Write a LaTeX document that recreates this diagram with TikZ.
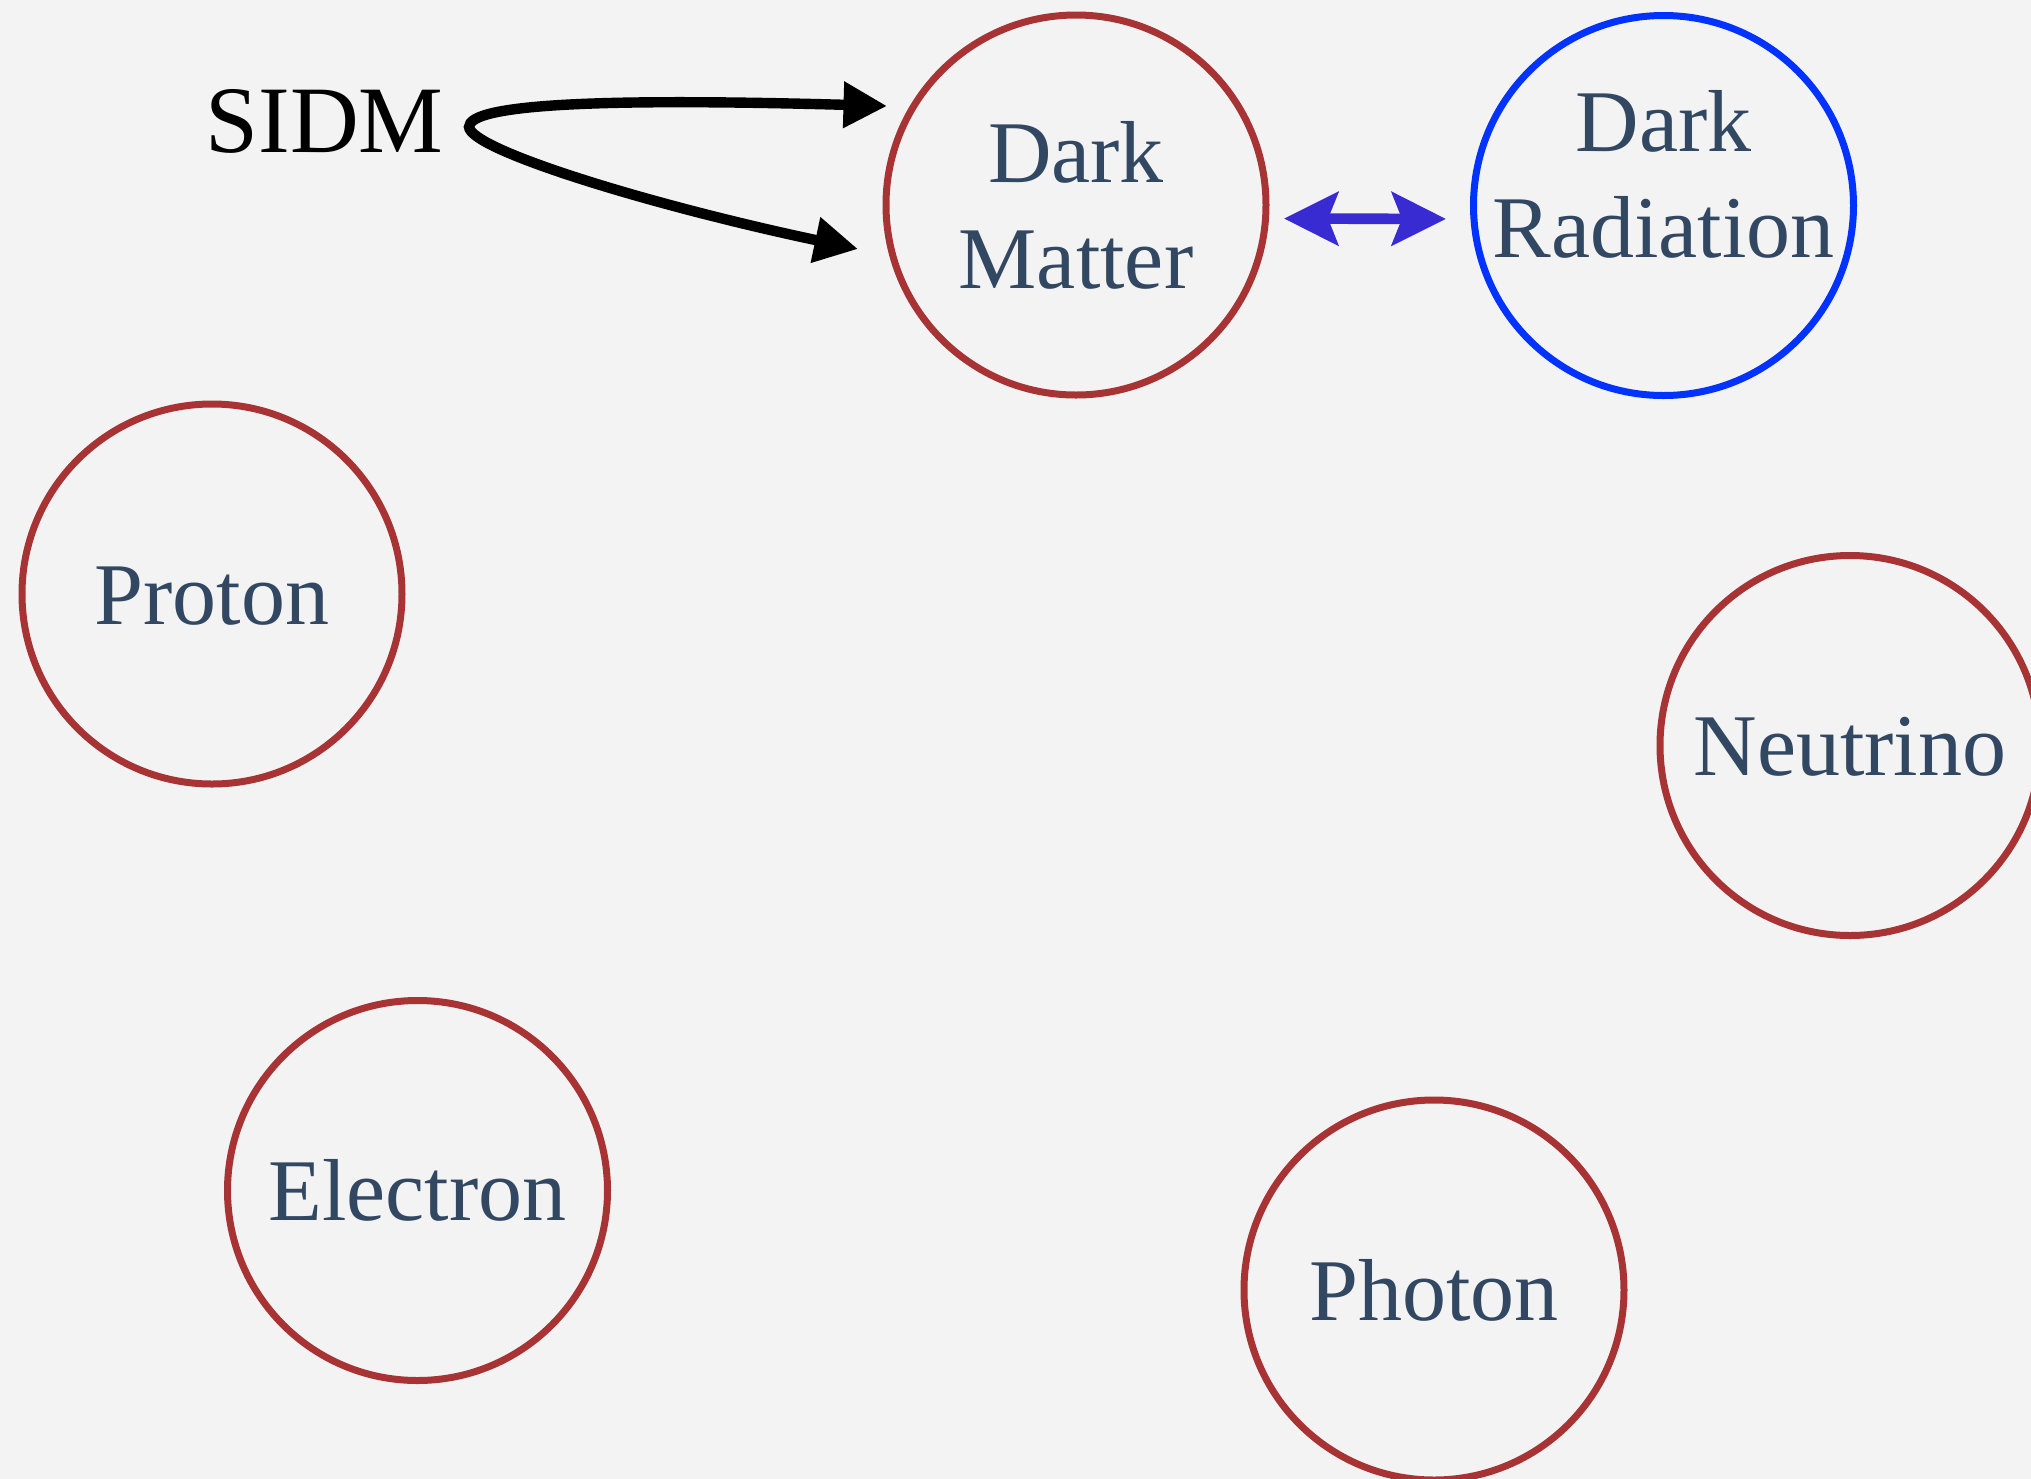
\documentclass[tikz,border=0pt]{standalone}
\usepackage{fontspec}
\setmainfont{Liberation Serif}
\usetikzlibrary{arrows.meta}
\definecolor{bgcol}{RGB}{243,243,243}
\definecolor{ringred}{RGB}{167,51,53}
\definecolor{ringblue}{RGB}{0,51,255}
\definecolor{labelcol}{RGB}{50,72,98}
\definecolor{linkblue}{RGB}{57,43,210}
\begin{document}
\begin{tikzpicture}[x=0.5pt,y=-0.5pt,
  particle/.style={circle, draw=ringred, line width=3.5pt, minimum size=190pt,
    inner sep=0pt, text=labelcol, font=\fontsize{44}{53}\selectfont, align=center},
  oneline/.style={text height=32pt, text depth=2pt},
  darkrad/.style={particle, draw=ringblue},
  ringtext/.style={inner sep=0pt, text=labelcol, font=\fontsize{44}{53}\selectfont, align=center},
  sidmtext/.style={inner sep=0pt, text=black, font=\fontsize{47.6}{50}\selectfont},
  sidmarrow/.style={line width=5.2pt, black,
    {Triangle[length=21.75pt,width=22pt]}-{Triangle[length=21.75pt,width=22pt]}},
  linkarrow/.style={line width=5.3pt, linkblue,
    {Stealth[length=27pt,width=26.5pt,inset=5pt]}-{Stealth[length=27pt,width=26.5pt,inset=5pt]}}]
\fill[bgcol] (0,0) rectangle (2031,1479);
\useasboundingbox (0,0) rectangle (2031,1479);
\clip (0,0) rectangle (2031,1479);

% particles
\node[particle] (dm) at (1076,205) {Dark\\Matter};
\node[darkrad] (dr) at (1663.5,205.5) {};
\node[ringtext] (drlabel) at (1663.5,174) {Dark\\Radiation};
\node[particle, oneline] (proton) at (212,594) {Proton};
\node[particle, oneline] (neutrino) at (1850,745.5) {Neutrino};
\node[particle, oneline] (electron) at (417.5,1190.5) {Electron};
\node[particle, oneline] (photon) at (1434,1290) {Photon};

% self-interaction loop
\node[sidmtext, anchor=base] (sidm) at (324.5,152) {SIDM};
\coordinate (s1) at (887,106);
\coordinate (s2) at (858,249);
\coordinate (loop) at (469,127);
\draw[sidmarrow] (s1) .. controls (600,98) and (469,104) .. (loop)
  .. controls (471,150) and (650,205) .. (s2);

% dark matter <-> dark radiation
\draw[linkarrow, shorten <=7.5pt, shorten >=12.25pt] (dm.-4.5) -- (dr.184.5);
\end{tikzpicture}
\end{document}
